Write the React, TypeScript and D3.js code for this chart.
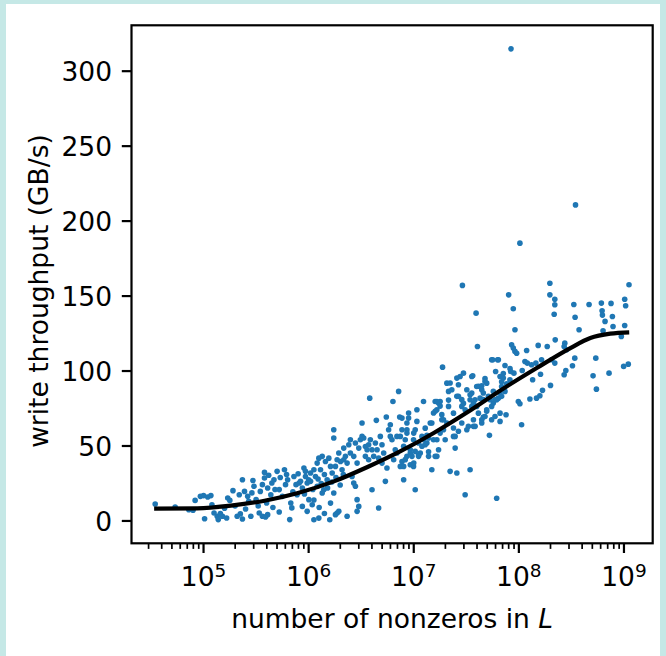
import React from "react";
import * as d3 from "d3";

// ---- data (log10 of number of nonzeros in L, write throughput GB/s) ----
const yTickValues = [0, 50, 100, 150, 200, 250, 300];
const xTickExponents = [5, 6, 7, 8, 9];

const samples: [number, number][] = [
  // low end
  [4.54, 11.3], [4.73, 9.3], [4.86, 7.5], [4.9, 7.1], [4.92, 13.7], [4.97, 16.4], [5.0, 16.9], [5.04, 16.0],
  [5.07, 16.9], [5.01, 1.5], [5.08, 10.7], [5.1, 5.3], [5.13, 3.1], [5.14, 0.9], [5.16, 4.9], [5.18, 3.1],
  [5.22, 2.0], [5.23, 15.3], [5.25, 13.7], [5.28, 20.2], [5.32, 3.1], [5.35, 4.7], [5.37, 1.3], [5.34, 17.5],
  [5.37, 27.5], [5.39, 19.7], [5.42, 16.4], [5.43, 13.1], [5.46, 18.7], [5.48, 23.1], [5.5, 14.2], [5.45, 3.1],
  [5.53, 5.3], [5.56, 3.1], [5.59, 2.7], [5.61, 4.2], [5.54, 19.7], [5.56, 24.2], [5.58, 28.7], [5.58, 32.4],
  [5.61, 22.0], [5.64, 17.5], [5.65, 25.3], [5.67, 27.5], [5.7, 33.1], [5.72, 20.9], [5.75, 16.4], [5.77, 34.2],
  [5.78, 24.2], [5.8, 27.5], [5.82, 0.9], [5.83, 12.0], [5.84, 8.7], [5.86, 29.7], [5.88, 24.2], [5.89, 17.5],
  [5.91, 25.3], [5.94, 9.7],
  [5.62, 30.5], [5.68, 21.0], [5.73, 29.0], [5.79, 31.0], [5.85, 19.5], [5.9, 31.5], [5.96, 18.0], [6.0, 27.5],
  [6.04, 21.0], [6.09, 28.0], [6.12, 25.0], [6.15, 31.0], [6.18, 22.0], [6.22, 26.0], [6.26, 29.0], [6.3, 24.0],
  [6.33, 31.0], [6.05, 14.0], [6.1, 9.0], [6.15, 5.0], [5.66, 9.0], [5.72, 6.0], [5.52, 10.0], [5.4, 8.0],
  [5.3, 10.0], [5.2, 8.5], [5.47, 27.0], [5.6, 12.0],
  // middle band
  [5.955, 35.3], [5.97, 29.7], [5.986, 25.3], [5.94, 22.0], [6.018, 32.0], [6.05, 34.2], [6.065, 29.7], [6.002, 14.2],
  [6.034, 10.8], [5.986, 6.4], [6.05, 0.8], [6.097, 1.9], [6.129, 18.6], [6.144, 20.8], [6.113, 34.2], [6.129, 43.1],
  [6.16, 39.7], [6.192, 41.9], [6.208, 36.4], [6.224, 32.0], [6.239, 60.8], [6.239, 55.3], [6.176, 27.5], [6.208, 11.9],
  [6.239, 18.6], [6.271, 5.3], [6.287, 6.4], [6.303, 39.7], [6.318, 34.2], [6.334, 48.6], [6.35, 43.1], [6.366, 38.6],
  [6.382, 50.8], [6.397, 45.3], [6.413, 29.7], [6.429, 25.3], [6.445, 23.1], [6.461, 14.2], [6.477, 9.7], [6.429, 43.1],
  [6.477, 48.6], [6.492, 54.2], [6.508, 65.3], [6.524, 55.3], [6.54, 49.7], [6.556, 47.5], [6.571, 40.8], [6.587, 54.2],
  [6.603, 20.8], [6.619, 43.1], [6.635, 52.0], [6.644, 67.1], [6.666, 8.6], [6.682, 56.4], [6.698, 50.8], [6.714, 45.3],
  [6.73, 26.4], [6.739, 69.3], [6.761, 60.8], [6.777, 64.2], [6.793, 54.2], [6.802, 79.7], [6.809, 40.8], [6.824, 47.5],
  [6.84, 56.4], [6.856, 86.4], [6.866, 69.3], [6.872, 36.4], [6.888, 39.7], [6.904, 27.5], [6.919, 54.2], [6.935, 60.8],
  [6.951, 68.6], [6.967, 47.5], [6.983, 43.1], [6.998, 36.4], [7.014, 20.8], [7.014, 60.8], [7.03, 74.2], [7.03, 66.4],
  [7.046, 52.0], [7.062, 45.3], [7.078, 56.4], [7.093, 79.7], [7.109, 61.9], [7.125, 52.0], [7.141, 43.1], [7.157, 65.3],
  [7.172, 34.2], [7.188, 54.2], [7.204, 79.7], [7.22, 74.2], [7.22, 43.1], [7.236, 47.5], [7.251, 79.7], [7.267, 67.5],
  [7.274, 102.6], [7.283, 60.8], [7.299, 54.2], [7.315, 91.9], [7.331, 76.4], [7.346, 33.1], [7.362, 87.5], [7.378, 56.4],
  [7.394, 48.6], [7.41, 83.1], [7.41, 32.0], [7.425, 90.8], [7.441, 96.4], [7.457, 76.4], [7.473, 98.6], [7.489, 17.5],
  [7.489, 74.2], [7.505, 60.8], [7.52, 63.1], [7.536, 34.2], [7.536, 80.8], [7.552, 85.3], [7.561, 96.8], [7.568, 67.5],
  [7.584, 63.1], [7.599, 76.4], [7.606, 116.4], [6.581, 81.9],
  [6.081, 38.6], [6.097, 41.9], [5.97, 33.1], [6.018, 26.4], [5.923, 26.4], [6.081, 23.1], [6.255, 36.4], [6.271, 40.8],
  [6.287, 45.3], [6.334, 40.8], [6.397, 54.2], [6.445, 52.0], [6.461, 38.6], [6.508, 56.4], [6.54, 43.1], [6.571, 50.8],
  [6.603, 47.5], [6.651, 47.5], [6.666, 41.9], [6.698, 38.6], [6.745, 35.3], [6.777, 56.4], [6.84, 45.3], [6.888, 60.8],
  [6.935, 43.1], [6.998, 54.2], [7.046, 44.2], [7.093, 54.2], [7.141, 55.3], [7.204, 73.1], [7.236, 78.6], [7.315, 65.3],
  [7.378, 71.9], [7.425, 83.1], [7.505, 87.5], [7.552, 76.4], [6.366, 3.1], [6.201, 0.8], [6.255, 4.2], [6.461, 6.4],
  [6.888, 68.6], [6.935, 65.3], [6.951, 72.0], [7.0, 58.6], [6.935, 58.6], [6.872, 56.4], [6.904, 49.8], [6.967, 45.3],
  [7.014, 46.4], [7.046, 43.1], [6.919, 40.9], [6.904, 36.4], [6.967, 37.5], [7.0, 38.6], [7.078, 49.8], [7.109, 50.9],
  [7.125, 57.2], [7.172, 65.3], [7.188, 72.0], [7.22, 79.7], [7.251, 76.6], [7.267, 70.9], [7.283, 67.5], [7.251, 58.6],
  [7.22, 54.2], [7.204, 43.1], [7.141, 46.1], [7.331, 86.4], [7.346, 92.0], [7.331, 80.6], [7.378, 62.0], [7.394, 56.4],
  [7.425, 59.8], [7.457, 65.3], [7.457, 80.9], [7.473, 78.4], [7.536, 84.2], [7.568, 78.4], [7.41, 95.3], [7.552, 96.4],
  [7.568, 63.1], [7.615, 89.8], [7.647, 87.5], [7.678, 95.0], [7.662, 80.9], [7.647, 67.5], [7.694, 73.1], [7.71, 83.1],
  [7.757, 78.6], [7.789, 80.9], [7.821, 85.3], [7.836, 92.8], [7.741, 107.5], [7.805, 107.5], [7.852, 98.3], [7.916, 101.6],
  // upper band
  [8.539, 210.8], [8.01, 185.3], [8.295, 158.6], [8.295, 150.8], [8.342, 147.9], [8.342, 144.2], [8.336, 137.9], [7.903, 150.8],
  [7.947, 141.5], [7.593, 138.6], [7.963, 127.5], [8.523, 144.4], [8.535, 135.9], [8.573, 127.5], [8.668, 144.4], [8.785, 145.3],
  [8.792, 140.2], [8.795, 137.3], [8.877, 145.1], [8.89, 136.4], [8.82, 133.1], [8.896, 129.7], [8.801, 126.8], [9.007, 147.9],
  [9.016, 143.5], [9.048, 157.5], [9.007, 130.4], [8.975, 123.1], [8.997, 103.1], [9.041, 104.6], [8.732, 108.6], [8.706, 96.8],
  [8.738, 87.9], [8.858, 98.6], [8.532, 108.6], [8.51, 103.5], [8.447, 100.4], [8.431, 97.5], [8.437, 118.6], [8.431, 116.4],
  [8.453, 114.2], [8.346, 120.8], [8.27, 116.4], [8.184, 117.1], [8.311, 107.5], [8.342, 105.3], [8.216, 107.5], [8.206, 97.9],
  [8.162, 105.3], [8.301, 90.4], [8.225, 87.1], [8.2, 83.5], [8.168, 81.9], [8.105, 81.3], [8.074, 113.7], [8.058, 106.4],
  [8.08, 105.3], [8.121, 104.2], [8.131, 94.2], [7.931, 117.5], [7.947, 115.3], [7.963, 113.1], [7.979, 111.9], [8.032, 100.4],
  [7.953, 98.6], [7.922, 99.7], [7.995, 79.7], [8.01, 78.2], [7.868, 103.7], [7.798, 107.5], [7.751, 107.5], [7.779, 99.7],
  [7.821, 96.4], [7.852, 95.3], [7.836, 89.7], [7.884, 91.5], [7.868, 86.4], [7.915, 94.2], [7.678, 93.1], [7.694, 91.9],
  [7.647, 90.2], [7.599, 89.7], [7.662, 85.3], [7.757, 86.4], [7.773, 80.8], [7.726, 80.8], [7.805, 81.9], [7.741, 76.4],
  [7.694, 74.2], [7.773, 69.7], [7.821, 71.9], [7.878, 70.8], [7.836, 83.1], [7.583, 80.8], [7.631, 81.9], [7.662, 69.3],
  [7.615, 71.9], [7.72, 57.1], [7.789, 15.1], [7.821, 66.4], [8.026, 64.2], [7.741, 67.5], [7.647, 65.3], [7.678, 69.7],
  [7.463, 157.1], [7.925, 314.9],
];

// fitted trend
const fitExponent = [4.53, 4.94, 5.26, 5.58, 5.89, 6.24, 6.56, 6.87, 7.19, 7.51, 7.85, 8.17, 8.49, 8.68, 8.87, 9.05];
const fitThroughput = [8.2, 8.4, 10.2, 13.5, 18.5, 26.4, 36.0, 46.4, 58.7, 72.5, 88.2, 102.0, 115.3, 122.0, 124.9, 125.8];

const FONT = "DejaVu Sans, sans-serif";

export default function App() {
  const W = 666, H = 656;
  const L = 131.5, R = 652.7, T = 25.3, B = 543.3;
  const FS = 26.5;

  const exps = samples.map((d) => d[0]);
  const vals = samples.map((d) => d[1]);
  const [eMin, eMax] = d3.extent(exps) as [number, number];
  const eP = (eMax - eMin) * 0.05;
  const [vMin, vMax] = d3.extent(vals) as [number, number];
  const vP = (vMax - vMin) * 0.05;

  const x = d3.scaleLog().domain([Math.pow(10, eMin - eP), Math.pow(10, eMax + eP)]).range([L, R]);
  const y = d3.scaleLinear().domain([vMin - vP, vMax + vP]).range([B, T]);

  const fitData = fitExponent.map((e, i) => [Math.pow(10, e), fitThroughput[i]] as [number, number]);
  const line = d3
    .line<[number, number]>()
    .x((d) => x(d[0]))
    .y((d) => y(d[1]))
    .curve(d3.curveMonotoneX);

  const [d0, d1] = x.domain();
  const minor: number[] = [];
  for (let e = Math.floor(Math.log10(d0)); e <= Math.ceil(Math.log10(d1)); e++) {
    for (let k = 2; k <= 9; k++) {
      const v = k * Math.pow(10, e);
      if (v >= d0 && v <= d1) minor.push(v);
    }
  }

  return (
    <svg
      width={W}
      height={H}
      style={{ position: "absolute", left: 0, top: 0, background: "#ffffff" }}
      fontFamily={FONT}
    >
      <rect x={0} y={0} width={W} height={H} fill="#ffffff" />
      {/* teal frame bands */}
      <rect x={0} y={0} width={W} height={4} fill="#c5e8e6" />
      <rect x={0} y={0} width={6} height={H} fill="#c5e8e6" />
      <rect x={W - 6} y={0} width={6} height={H} fill="#c5e8e6" />

      {/* scatter */}
      <g fill="#1f77b4">
        {samples.map((d, i) => (
          <circle key={i} cx={x(Math.pow(10, d[0]))} cy={y(d[1])} r={2.8} />
        ))}
      </g>

      {/* fit */}
      <path d={line(fitData) || ""} fill="none" stroke="#000" strokeWidth={4.2} strokeLinecap="butt" />

      {/* axes frame */}
      <rect x={L} y={T} width={R - L} height={B - T} fill="none" stroke="#000" strokeWidth={2.2} />

      {/* y ticks */}
      {yTickValues.map((v) => (
        <g key={v}>
          <line x1={L - 9.7} x2={L} y1={y(v)} y2={y(v)} stroke="#000" strokeWidth={2.2} />
          <text x={L - 19.4} y={y(v) + 9.6} textAnchor="end" fontSize={FS} fill="#000">
            {v}
          </text>
        </g>
      ))}

      {/* x minor ticks */}
      {minor.map((v) => (
        <line key={v} x1={x(v)} x2={x(v)} y1={B} y2={B + 5.6} stroke="#000" strokeWidth={1.7} />
      ))}
      {/* x major ticks */}
      {xTickExponents.map((e) => (
        <g key={e}>
          <line x1={x(Math.pow(10, e))} x2={x(Math.pow(10, e))} y1={B} y2={B + 9.7} stroke="#000" strokeWidth={2.2} />
          <text x={x(Math.pow(10, e))} y={586} textAnchor="middle" fontSize={FS} fill="#000">
            <tspan>10</tspan>
            <tspan dy={-9} fontSize={18.5}>
              {e}
            </tspan>
          </text>
        </g>
      ))}

      {/* axis labels */}
      <text x={(L + R) / 2} y={628} textAnchor="middle" fontSize={FS} fill="#000">
        number of nonzeros in <tspan fontStyle="italic">L</tspan>
      </text>
      <text
        transform={`translate(48, 291) rotate(-90)`}
        textAnchor="middle"
        fontSize={FS}
        fill="#000"
      >
        write throughput (GB/s)
      </text>
    </svg>
  );
}
